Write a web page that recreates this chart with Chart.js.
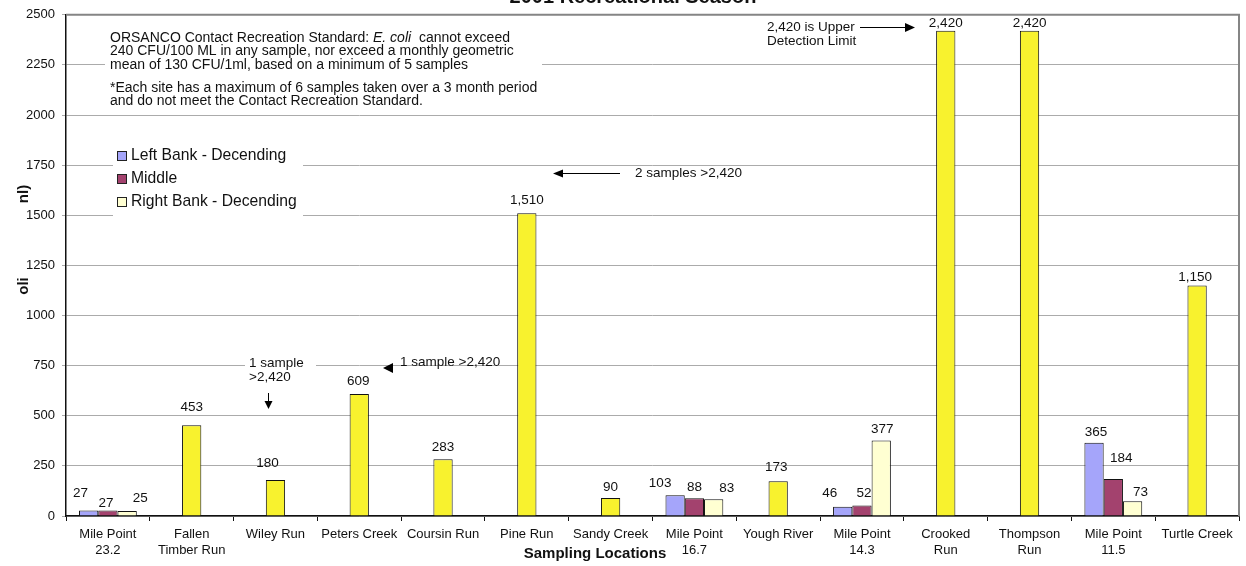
<!DOCTYPE html>
<html>
<head>
<meta charset="utf-8">
<title>E. coli – 2001 Recreational Season</title>
<script src="https://cdn.jsdelivr.net/npm/chart.js@4/dist/chart.umd.min.js"></script>
<style>
  html, body { margin: 0; padding: 0; background: #fff; }
  #wrap { width: 1246px; height: 566px; position: relative; }
</style>
</head>
<body>
<div id="wrap"><canvas id="chart" width="1246" height="566"></canvas></div>
<script>
// Sampling locations along the river (multi-line tick labels)
const categories = [
  ['Mile Point', '23.2'], ['Fallen', 'Timber Run'], 'Wiley Run', 'Peters Creek',
  'Coursin Run', 'Pine Run', 'Sandy Creek', ['Mile Point', '16.7'], 'Yough River',
  ['Mile Point', '14.3'], ['Crooked', 'Run'], ['Thompson', 'Run'], ['Mile Point', '11.5'],
  'Turtle Creek'
];

// Geometric mean E. coli (CFU/100ml) for the main-stem transects
const leftBank  = [27, null, null, null, null, null, null, 103, null, 46, null, null, 365, null];
const middle    = [27, null, null, null, null, null, null, 88, null, 52, null, null, 184, null];
const rightBank = [25, null, null, null, null, null, null, 83, null, 377, null, null, 73, null];

// Tributaries sampled at a single site
const singleSite = [null, 453, 180, 609, 283, 1510, 90, null, 173, null, 2420, 2420, null, 1150];

// Value axis
const yMin = 0, yMax = 2500, yStep = 250;

const FONT = "'Liberation Sans', Arial, sans-serif";
const COLORS = {
  left: '#a5a5fa',
  middle: '#a3426e',
  right: '#ffffd2',
  single: '#f8f22e'
};

// Small nudges for value labels that sit away from the default spot (dx, dy in px)
const labelNudge = {
  '0-0': [-8, -5], '1-0': [-2, 5], '3-0': [13, 0],
  '2-1': [0, -5.5], '2-2': [-8, -4],
  '2-3': [-1, 0], '2-4': [0, 1], '2-6': [0, 1.5], '2-8': [-2, -1.5],
  '0-7': [-15, 0.5], '1-7': [0, 1.5], '3-7': [13, 1.5],
  '0-9': [-13, -1], '1-9': [2, 0], '3-9': [1, 1],
  '2-10': [0, 5], '2-11': [0, 5],
  '0-12': [2, 1.5], '1-12': [8, -8.5], '3-12': [8, 3.5],
  '2-13': [-2, 4.5]
};

function fmt(v) { return v.toLocaleString('en-US'); }

// Value labels above every bar
const valueLabels = {
  id: 'valueLabels',
  afterDatasetsDraw(chart) {
    const ctx = chart.ctx;
    ctx.save();
    ctx.font = '13.5px ' + FONT;
    ctx.fillStyle = '#111';
    ctx.textAlign = 'center';
    ctx.textBaseline = 'middle';
    chart.data.datasets.forEach((ds, di) => {
      const meta = chart.getDatasetMeta(di);
      meta.data.forEach((bar, i) => {
        const v = ds.data[i];
        if (v === null || v === undefined) return;
        const n = labelNudge[di + '-' + i] || [0, 0];
        ctx.fillText(fmt(v), bar.x + n[0], bar.y - 12.5 + n[1]);
      });
    });
    ctx.restore();
  }
};

function arrowHead(ctx, tipX, tipY, dir, len, half) {
  ctx.beginPath();
  if (dir === 'left') {
    ctx.moveTo(tipX, tipY); ctx.lineTo(tipX + len, tipY - half); ctx.lineTo(tipX + len, tipY + half);
  } else if (dir === 'right') {
    ctx.moveTo(tipX, tipY); ctx.lineTo(tipX - len, tipY - half); ctx.lineTo(tipX - len, tipY + half);
  } else {
    ctx.moveTo(tipX, tipY); ctx.lineTo(tipX - half, tipY - len); ctx.lineTo(tipX + half, tipY - len);
  }
  ctx.closePath();
  ctx.fill();
}

// Plot frame, notes, arrows, legend and axis titles
const decorations = {
  id: 'decorations',
  afterDatasetsDraw(chart) {
    const ctx = chart.ctx;
    const a = chart.chartArea;
    ctx.save();

    // grey frame on the top and right of the plot area
    ctx.strokeStyle = '#858585';
    ctx.lineWidth = 2;
    ctx.beginPath();
    ctx.moveTo(a.left, a.top);
    ctx.lineTo(a.right, a.top);
    ctx.lineTo(a.right, a.bottom);
    ctx.stroke();

    // white backing behind the text boxes
    ctx.fillStyle = '#fff';
    ctx.fillRect(105, 28, 437, 86);
    ctx.fillRect(113, 146, 190, 70);
    ctx.fillRect(245, 354, 71, 31);

    ctx.fillStyle = '#111';
    ctx.textBaseline = 'middle';
    ctx.textAlign = 'left';

    // standard note
    const noteFont = '14px ' + FONT;
    ctx.font = noteFont;
    let x = 110;
    const p1 = 'ORSANCO Contact Recreation Standard: ';
    ctx.fillText(p1, x, 38);
    x += ctx.measureText(p1).width;
    ctx.font = 'italic ' + noteFont;
    const p2 = 'E. coli';
    ctx.fillText(p2, x, 38);
    x += ctx.measureText(p2).width;
    ctx.font = noteFont;
    ctx.fillText('  cannot exceed', x, 38);
    ctx.fillText('240 CFU/100 ML in any sample, nor exceed a monthly geometric', 110, 51.5);
    ctx.fillText('mean of 130 CFU/1ml, based on a minimum of 5 samples', 110, 65);
    ctx.fillText('*Each site has a maximum of 6 samples taken over a 3 month period', 110, 88);
    ctx.fillText('and do not meet the Contact Recreation Standard.', 110, 101.5);

    // annotations on individual sites
    ctx.font = '13.5px ' + FONT;
    ctx.fillText('2,420 is Upper', 767, 27);
    ctx.fillText('Detection Limit', 767, 41);
    ctx.fillText('2 samples >2,420', 635, 173);
    ctx.fillText('1 sample >2,420', 400, 362);
    ctx.fillText('1 sample', 249, 363);
    ctx.fillText('>2,420', 249, 377);

    ctx.strokeStyle = '#000';
    ctx.lineWidth = 1;
    ctx.fillStyle = '#000';
    // upper detection limit arrow
    ctx.beginPath(); ctx.moveTo(860, 27.5); ctx.lineTo(906, 27.5); ctx.stroke();
    arrowHead(ctx, 915, 27.5, 'right', 10, 4.5);
    // two samples arrow
    ctx.beginPath(); ctx.moveTo(562, 173.5); ctx.lineTo(620, 173.5); ctx.stroke();
    arrowHead(ctx, 553, 173.5, 'left', 10, 4);
    // one sample (Pine Run side)
    arrowHead(ctx, 383, 368, 'left', 10, 5);
    // one sample (Wiley Run)
    ctx.beginPath(); ctx.moveTo(268.5, 393); ctx.lineTo(268.5, 402); ctx.stroke();
    arrowHead(ctx, 268.5, 409, 'down', 8, 4);

    // legend
    const rows = [0, 1, 3];
    ctx.font = '15.7px ' + FONT;
    rows.forEach((di, r) => {
      const ds = chart.data.datasets[di];
      const y = 156 + r * 23;
      ctx.fillStyle = ds.backgroundColor;
      ctx.fillRect(117.5, y - 4.5, 9, 9);
      ctx.strokeStyle = '#222';
      ctx.strokeRect(117.5, y - 4.5, 9, 9);
      ctx.fillStyle = '#111';
      ctx.fillText(ds.label, 131, y);
    });

    // title (runs off the top edge)
    ctx.font = 'bold 20px ' + FONT;
    ctx.textAlign = 'center';
    ctx.textBaseline = 'alphabetic';
    ctx.fillText('2001 Recreational Season', 633, 2.5);

    // x-axis title
    ctx.font = 'bold 15px ' + FONT;
    ctx.textBaseline = 'middle';
    ctx.fillText('Sampling Locations', 595, 554);

    // y-axis title pieces
    ctx.font = 'bold 15px ' + FONT;
    [['nl)', 194], ['oli', 286]].forEach(([t, y]) => {
      ctx.save();
      ctx.translate(24, y);
      ctx.rotate(-Math.PI / 2);
      ctx.fillText(t, 0, 0);
      ctx.restore();
    });

    ctx.restore();
  }
};

new Chart(document.getElementById('chart'), {
  type: 'bar',
  data: {
    labels: categories,
    datasets: [
      { label: 'Left Bank - Decending', data: leftBank, stack: 'left', backgroundColor: COLORS.left },
      { label: 'Middle', data: middle, stack: 'mid', backgroundColor: COLORS.middle },
      { label: 'Single Site', data: singleSite, stack: 'mid', backgroundColor: COLORS.single },
      { label: 'Right Bank - Decending', data: rightBank, stack: 'right', backgroundColor: COLORS.right }
    ].map(d => Object.assign(d, {
      borderColor: '#111',
      borderWidth: 1,
      categoryPercentage: 0.69,
      barPercentage: 1.0
    }))
  },
  options: {
    responsive: false,
    animation: false,
    devicePixelRatio: 1,
    layout: { padding: { top: 9, right: 7, left: 0, bottom: 0 } },
    plugins: {
      legend: { display: false },
      title: { display: false },
      tooltip: { enabled: false }
    },
    scales: {
      x: {
        stacked: true,
        grid: { drawOnChartArea: false, drawTicks: true, tickLength: 5, tickColor: '#111', offset: true, lineWidth: 1 },
        border: { color: '#111', width: 1.5 },
        ticks: {
          color: '#111',
          font: { family: FONT, size: 13, lineHeight: 1.23 },
          padding: 5,
          maxRotation: 0,
          autoSkip: false
        },
        afterFit(scale) { scale.height = 50; }
      },
      y: {
        stacked: true,
        min: yMin,
        max: yMax,
        grid: { color: '#ababab', tickColor: '#ababab', tickLength: 4, lineWidth: 1 },
        border: { color: '#111', width: 1.5 },
        ticks: {
          stepSize: yStep,
          color: '#111',
          font: { family: FONT, size: 13 },
          padding: 7,
          callback: v => String(v)
        },
        afterFit(scale) { scale.width = 66; }
      }
    }
  },
  plugins: [valueLabels, decorations]
});
</script>
</body>
</html>
